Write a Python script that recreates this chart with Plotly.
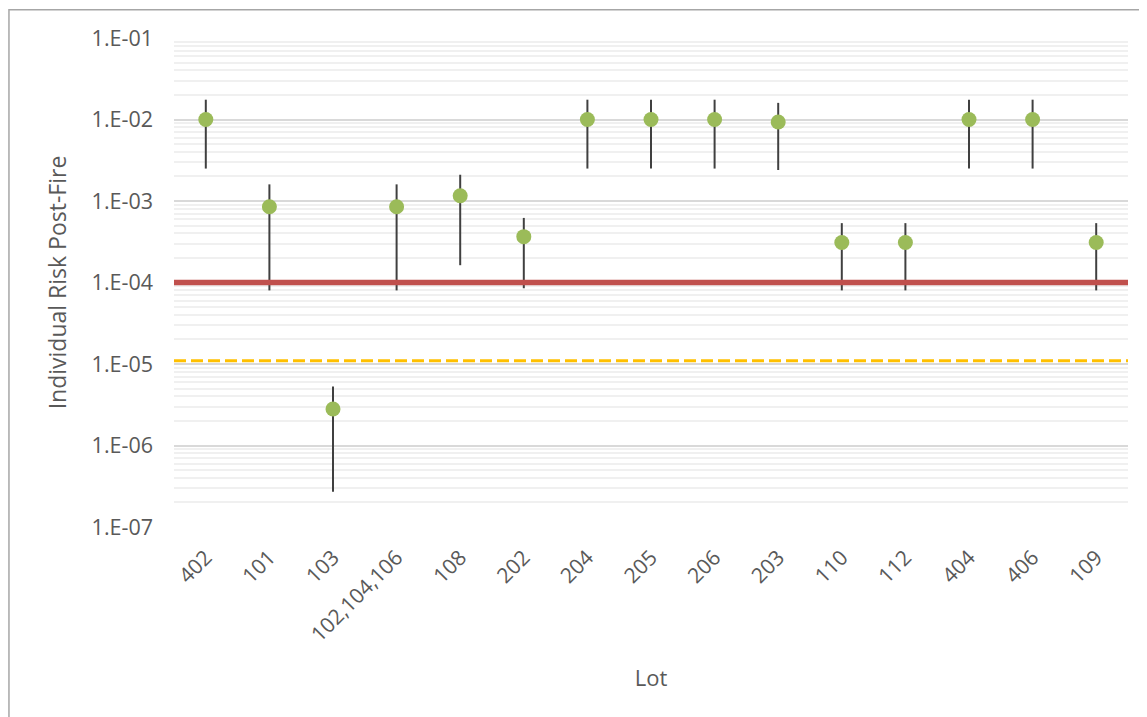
import plotly.graph_objects as go

lots = ["402", "101", "103", "102,104,106", "108", "202", "204", "205", "206",
        "203", "110", "112", "404", "406", "109"]
risk = [1.0e-2, 8.5e-4, 2.8e-6, 8.5e-4, 1.16e-3, 3.65e-4, 1.0e-2, 1.0e-2, 1.0e-2,
        9.3e-3, 3.1e-4, 3.1e-4, 1.0e-2, 1.0e-2, 3.1e-4]
risk_high = [1.75e-2, 1.6e-3, 5.3e-6, 1.6e-3, 2.1e-3, 6.2e-4, 1.75e-2, 1.75e-2, 1.75e-2,
             1.6e-2, 5.35e-4, 5.35e-4, 1.75e-2, 1.75e-2, 5.35e-4]
risk_low = [2.5e-3, 8.0e-5, 2.7e-7, 8.0e-5, 1.63e-4, 8.5e-5, 2.5e-3, 2.5e-3, 2.5e-3,
            2.4e-3, 8.0e-5, 8.0e-5, 2.5e-3, 2.5e-3, 8.0e-5]
criterion_red = 1.0e-4
criterion_orange = 1.1e-5

tick_vals = [1e-1, 1e-2, 1e-3, 1e-4, 1e-5, 1e-6, 1e-7]
tick_text = ["1.E-01", "1.E-02", "1.E-03", "1.E-04", "1.E-05", "1.E-06", "1.E-07"]
minor_vals = [m * 10.0 ** e for e in range(-7, -1) for m in range(2, 10)]

err_plus = [h - v for h, v in zip(risk_high, risk)]
err_minus = [v - l for v, l in zip(risk, risk_low)]

FONT = "Open Sans"
GREY = "#595959"

fig = go.Figure()

fig.add_trace(go.Scatter(
    x=[0, 1], y=[criterion_red, criterion_red], xaxis="x2", yaxis="y",
    mode="lines", line=dict(color="#C0504D", width=5.5), showlegend=False,
    hoverinfo="skip"))
fig.add_trace(go.Scatter(
    x=[0, 1], y=[criterion_orange, criterion_orange], xaxis="x2", yaxis="y",
    mode="lines", line=dict(color="#FFC000", width=3, dash="12px,5px"), showlegend=False,
    hoverinfo="skip"))

fig.add_trace(go.Scatter(
    x=lots, y=risk, mode="markers",
    marker=dict(color="#9BBB59", size=15),
    error_y=dict(type="data", symmetric=False, array=err_plus, arrayminus=err_minus,
                 color="#404040", thickness=2, width=0),
    showlegend=False))

fig.update_layout(
    width=1139, height=709,
    margin=dict(l=166, r=19, t=29.5, b=189.5),
    paper_bgcolor="white", plot_bgcolor="white",
    font=dict(family=FONT, color=GREY, size=20),
    xaxis=dict(
        type="category", range=[-0.5, len(lots) - 0.5], tickangle=-45,
        showgrid=False, showline=False, ticks="", ticklabelstandoff=13,
        tickfont=dict(size=21, color=GREY),
        title=dict(text="Lot", font=dict(size=22, color=GREY), standoff=24),
        automargin=False, zeroline=False,
    ),
    xaxis2=dict(overlaying="x", range=[0, 1], visible=False, fixedrange=True),
    yaxis=dict(
        type="log", range=[-7, -1], tickmode="array", tickvals=tick_vals,
        ticktext=tick_text, showgrid=True, gridcolor="#D9D9D9", gridwidth=1.5,
        tickfont=dict(size=21.5, color=GREY), ticks="", showline=False,
        ticklabelstandoff=20,
        zeroline=False, automargin=False,
        minor=dict(tickmode="array", tickvals=minor_vals, showgrid=True,
                   gridcolor="#F0F0F0", gridwidth=1.5, ticks=""),
        title=dict(text="Individual Risk Post-Fire", font=dict(size=23, color=GREY),
                   standoff=18),
    ),
    shapes=[dict(type="rect", xref="paper", yref="paper",
                 x0=-0.173, x1=1.03, y0=-0.40, y1=1.058,
                 line=dict(color="#A6A6A6", width=1.5), fillcolor="rgba(0,0,0,0)",
                 layer="below")],
)

fig.write_html("out.html")
